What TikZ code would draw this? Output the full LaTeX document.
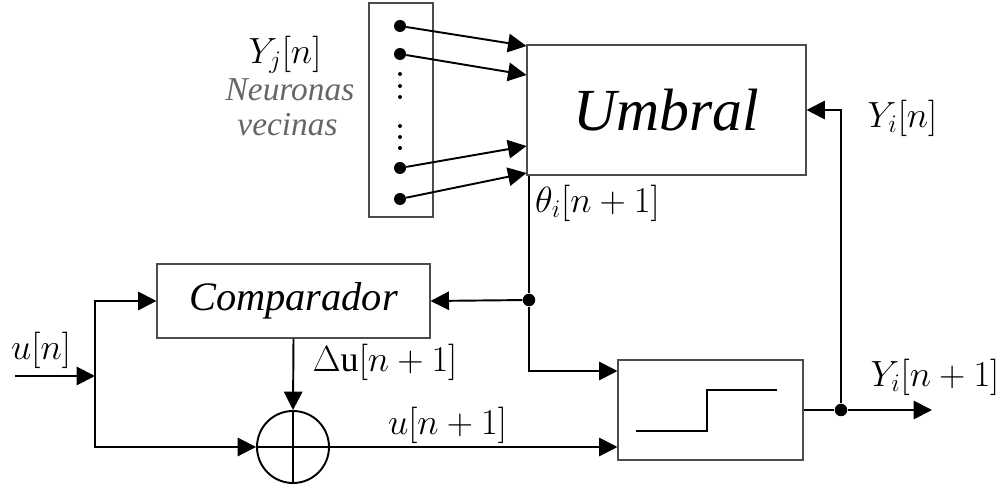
\documentclass[tikz,border=0pt]{standalone}
\usepackage{fontspec}
\setmainfont{Liberation Serif}
\usetikzlibrary{positioning,arrows.meta,calc}

\begin{document}
\begin{tikzpicture}[
  box/.style={rectangle, draw=black!70, line width=0.6pt, inner sep=0pt},
  sig/.style={line width=1.1pt},
  arrow/.style={sig, -{Triangle[length=10.5pt, width=10.5pt]}},
  dot/.style={circle, fill, inner sep=0pt, minimum size=0.24cm},
  tiny/.style={circle, fill, inner sep=0pt, minimum size=0.08cm},
  junc/.style={circle, fill, inner sep=0pt, minimum size=0.25cm},
  mathlbl/.style={font=\fontsize{20.5}{22}\selectfont},
  title/.style={font=\fontsize{23}{25}\selectfont\itshape},
  side/.style={text=black!60, font=\fontsize{19}{21}\selectfont\itshape},
]

\useasboundingbox (0,0) rectangle (20.04,-9.74);

% === Neuronas vecinas ===
\node[box, minimum width=1.28cm, minimum height=4.28cm] (nbox) at (8.02,-2.2) {};
\node[dot] (n1) at (8.0,-0.52) {};
\node[dot] (n2) at (8.0,-1.08) {};
\node[dot] (n3) at (8.0,-3.36) {};
\node[dot] (n4) at (8.0,-3.98) {};
\foreach \y in {-1.48,-1.72,-1.94,-2.52,-2.74,-2.96}
  \node[tiny] at (8.0,\y) {};

\node[mathlbl] (yj) at (5.7,-1.1) {$Y_j[n]$};
\node[side] (nv1) at (5.8,-1.8) {Neuronas};
\node[side] (nv2) at (5.75,-2.5) {vecinas};

% === Umbral ===
\node[box, minimum width=5.58cm, minimum height=2.6cm,
      font=\fontsize{34}{36}\selectfont\itshape] (umb) at (13.33,-2.2) {Umbral};
\node[mathlbl] (theta) at (11.95,-4.06) {$\theta_i[n+1]$};

\draw[arrow] (n1) -- ([yshift=1.28cm]umb.west);
\draw[arrow] (n2) -- ([yshift=0.7cm]umb.west);
\draw[arrow] (n3) -- ([yshift=-0.72cm]umb.west);
\draw[arrow] (n4) -- ([yshift=-1.26cm]umb.west);

% === Comparador and sum ===
\node[box, minimum width=5.46cm, minimum height=1.48cm, title] (comp) at (5.87,-6.02) {Comparador};
\node[circle, draw, line width=1.1pt, minimum size=1.44cm, inner sep=0pt] (sum) at (5.86,-8.94) {};
\draw[sig] (sum.north) -- (sum.south);
\draw[sig] (sum.west) -- (sum.east);

% === Escalon ===
\node[box, minimum width=3.7cm, minimum height=2.0cm] (thr) at (14.21,-8.2) {};
\draw[sig] ($(thr.center)+(-1.49,-0.42)$) -| ++(1.42,0.82) -- ++(1.4,0);

% === Junctions ===
\coordinate (in) at (0.3,-7.52);
\coordinate (br) at (1.9,-7.52);
\node[junc] (j1) at (10.58,-6.0) {};
\node[junc] (j2) at (16.82,-8.2) {};
\coordinate (out) at (18.64,-8.2);

% === Signals ===
\draw[arrow] (in) -- (br);
\draw[arrow] (br) |- (comp.west);
\draw[arrow] (br) |- (sum.west);
\draw[arrow] (comp.south) -- (sum.north);
\draw[sig] (j1 |- umb.south) -- (j1);
\draw[arrow] (j1) -- (comp.east);
\draw[arrow] (j1) |- ([yshift=0.78cm]thr.west);
\draw[arrow] (sum.east) -- (sum.east -| thr.west);
\draw[sig] (thr.east) -- (j2);
\draw[arrow] (j2) -- (out);
\draw[arrow] (j2) |- (umb.east);

% === Labels ===
\node[mathlbl] (lun) at (0.82,-7.0) {$u[n]$};
\node[mathlbl] (ldu) at (7.7,-7.24) {$\Delta\mathrm{u}[n+1]$};
\node[mathlbl] (lun1) at (8.95,-8.5) {$u[n+1]$};
\node[mathlbl] (lyi) at (18.05,-2.36) {$Y_i[n]$};
\node[mathlbl] (lyi1) at (18.7,-7.54) {$Y_i[n+1]$};

\end{tikzpicture}
\end{document}
